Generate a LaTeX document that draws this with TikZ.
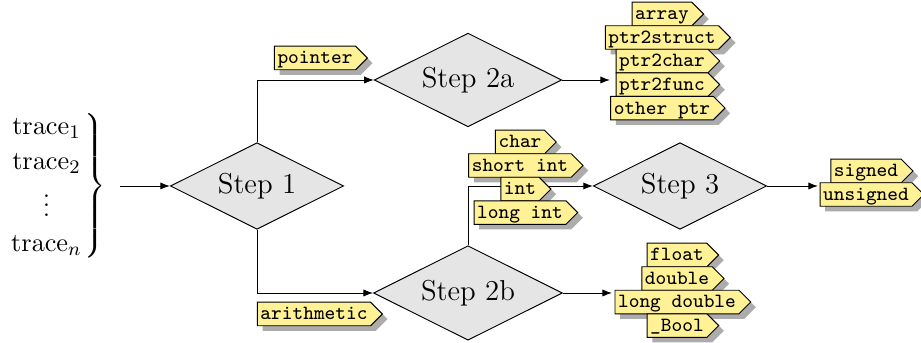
\documentclass[tikz,border=0pt]{standalone}
\usepackage{xcolor}
\usepackage{tikz}
\usetikzlibrary{shapes.geometric,shapes.symbols,arrows.meta,positioning,shadows}

\definecolor{tagyellow}{RGB}{255,241,150}

\begin{document}
\begin{tikzpicture}[
  x=0.41667pt, y=0.41667pt,
  decision/.style={draw, diamond, aspect=2, fill=gray!20, inner sep=3pt, font=\large},
  tag/.style={draw, signal, signal to=east, fill=tagyellow, drop shadow={opacity=.65}, font=\ttfamily\fontsize{8.4}{10}\selectfont, inner xsep=1.3pt, inner ysep=0pt, minimum height=9.8pt, text height=1.55ex, text depth=.4ex},
  stacked/.style={tag, below=-0.4pt of #1},
  arrow/.style={-{Latex[length=4pt]}}
]
  \useasboundingbox (0,0) rectangle (921,343);

  % input traces and the decision steps
  \node[inner sep=0pt, anchor=east, font=\fontsize{11.3}{14}\selectfont] (traces) at (106,157)
    {\setlength{\arraycolsep}{1pt}\renewcommand{\arraystretch}{1.04}$\left.\begin{array}{c}
      \mathrm{trace}_1\\ \mathrm{trace}_2\\ \vdots\\ \mathrm{trace}_n
    \end{array}\right\}$};
  \node[decision] (step1) at (257,157) {Step 1};
  \node[decision] (step2a) at (468,263) {Step 2a};
  \node[decision] (step2b) at (468,50) {Step 2b};
  \node[decision] (step3) at (680,157) {Step 3};

  \coordinate (ptrs) at (610,263);
  \coordinate (floats) at (612,50);
  \coordinate (signs) at (818,157);

  \draw[arrow, shorten <=6pt] (traces) -- (step1);
  \draw[arrow] (step1.north) |- (step2a.west);
  \draw[arrow] (step1.south) |- (step2b.west);
  \draw[arrow] (step2b.north) |- (step3.west);
  \draw[arrow] (step2a.east) -- (ptrs);
  \draw[arrow] (step2b.east) -- (floats);
  \draw[arrow] (step3.east) -- (signs);

  % type tags
  \node[tag] (pointer) at (315,285) {pointer};
  \node[tag] (arith) at (314,29) {arithmetic};

  \node[tag] (array) at (662,329) {array};
  \node[stacked=array] (ptr2struct) {ptr2struct};
  \node[stacked=ptr2struct] (ptr2char) {ptr2char};
  \node[stacked=ptr2char] (ptr2func) {ptr2func};
  \node[stacked=ptr2func] (otherptr) {other ptr};

  \node[tag] (char) at (520,201) {char};
  \node[stacked=char] (shortint) {short int};
  \node[stacked=shortint] (int) {int};
  \node[stacked=int] (longint) {long int};

  \node[tag] (float) at (677,88) {float};
  \node[stacked=float] (double) {double};
  \node[stacked=double] (longdouble) {long double};
  \node[stacked=longdouble] (bool) {\_Bool};

  \node[tag] (signed) at (866,172) {signed};
  \node[stacked=signed] (unsigned) {unsigned};
\end{tikzpicture}
\end{document}
